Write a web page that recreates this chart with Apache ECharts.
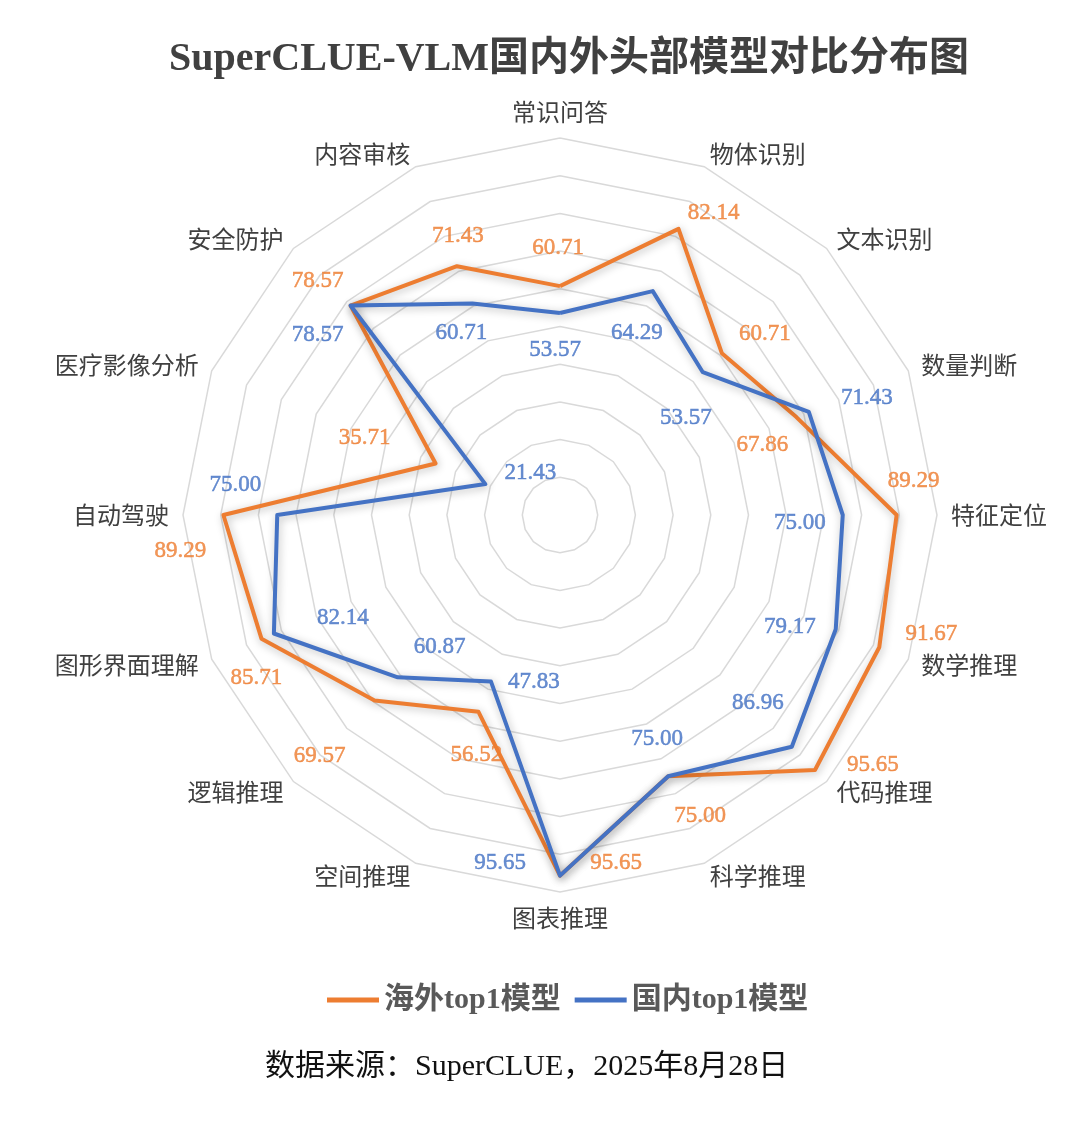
<!DOCTYPE html>
<html lang="zh">
<head>
    <meta charset="UTF-8">
    <title>SuperCLUE-VLM</title>
    <script src="https://cdn.jsdelivr.net/npm/echarts@6/dist/echarts.min.js"></script>
    <style>
        html, body { margin: 0; padding: 0; background: #fff; }
        #chart { width: 1080px; height: 1134px; }
    </style>
</head>
<body>
<div id="chart"></div>
<script type="text/javascript">
    // 维度（顺时针，从正上方开始）
    var indicators = ['常识问答', '物体识别', '文本识别', '数量判断', '特征定位', '数学推理', '代码推理', '科学推理',
        '图表推理', '空间推理', '逻辑推理', '图形界面理解', '自动驾驶', '医疗影像分析', '安全防护', '内容审核']
    var seriesNames = ['海外top1模型', '国内top1模型']
    var overseas = [60.71, 82.14, 60.71, 67.86, 89.29, 91.67, 95.65, 75.00, 95.65, 56.52, 69.57, 85.71, 89.29, 35.71, 78.57, 71.43]
    var domestic = [53.57, 64.29, 53.57, 71.43, 75.00, 79.17, 86.96, 75.00, 95.65, 47.83, 60.87, 82.14, 75.00, 21.43, 78.57, 60.71]

    var colors = ['#ED7D31', '#4472C4']

    // 数值标签相对顶点的偏移
    var offsetOut = [[-2, -38], [35, -16], [43, -19], [-34, 28], [17, -34], [52, -13], [58, -5], [32, 40],
        [56, -13], [-2, 43], [-55, 55], [-5, 39], [-43, 36], [-71, -26], [-33, -25], [1, -30]]
    var offsetIn = [[-5, 37], [-16, 42], [-17, 46], [58, -14], [-43, 8], [-46, -2], [-34, -44], [-11, -37],
        [-60, -13], [43, 0], [42, -30], [69, -16], [-42, -30], [45, -11], [-33, 29], [-11, 29]]

    var n = indicators.length
    var step = 360 / n
    var center = [560, 515]
    var radius = 377

    // radar 默认逆时针排列，这里倒序保证顺时针
    function toRadarOrder(arr) {
        var res = []
        for (var k = 0; k < n; k++) {
            res.push(arr[(n - k) % n])
        }
        return res
    }

    var radarIndicator = toRadarOrder(indicators).map(function (name) {
        return {name: name, min: 0, max: 100}
    })

    function labelData(values, offsets) {
        var res = []
        for (var i = 0; i < n; i++) {
            res.push({
                value: [values[i], i * step],
                label: {offset: offsets[i]}
            })
        }
        return res
    }

    function lineStyle(color) {
        return {
            color: color,
            width: 4,
            shadowColor: 'rgba(0,0,0,0.28)',
            shadowBlur: 9,
            shadowOffsetX: 1,
            shadowOffsetY: 2
        }
    }

    function valueLabel(color) {
        return {
            show: true,
            position: 'inside',
            color: color,
            fontSize: 23,
            fontFamily: '"Liberation Serif"',
            textBorderColor: color,
            textBorderWidth: 0.5,
            textShadowBlur: 0,
            formatter: function (p) { return p.value[0].toFixed(2) }
        }
    }

    var chart = echarts.init(document.getElementById('chart'))

    var option = {
        backgroundColor: '#ffffff',
        animation: false,
        title: [
            {
                text: 'SuperCLUE-VLM国内外头部模型对比分布图',
                left: 164,
                top: 35,
                textStyle: {
                    fontSize: 40,
                    fontWeight: 'bold',
                    color: '#404040',
                    fontFamily: '"Liberation Serif", "Noto Sans CJK SC"'
                }
            },
            {
                text: '数据来源：SuperCLUE，2025年8月28日',
                left: 260,
                top: 1047,
                textStyle: {
                    fontSize: 30,
                    fontWeight: 'normal',
                    color: '#111111',
                    fontFamily: '"Liberation Serif", "Noto Sans CJK SC"'
                }
            }
        ],
        legend: {
            data: seriesNames,
            left: 322,
            top: 980,
            icon: 'rect',
            itemWidth: 52,
            itemHeight: 5,
            itemGap: 14,
            textStyle: {
                fontSize: 30,
                fontWeight: 'bold',
                color: '#595959',
                fontFamily: '"Liberation Serif", "Noto Sans CJK SC"'
            }
        },
        radar: {
            center: center,
            radius: radius,
            startAngle: 90,
            splitNumber: 10,
            shape: 'polygon',
            indicator: radarIndicator,
            axisName: {
                color: '#404040',
                fontSize: 24,
                fontFamily: '"Noto Sans CJK SC"'
            },
            nameGap: 14,
            axisLine: {show: false},
            axisTick: {show: false},
            axisLabel: {show: false},
            splitArea: {show: false},
            splitLine: {lineStyle: {color: '#d9d9d9', width: 1.5}}
        },
        polar: {
            center: center,
            radius: radius
        },
        angleAxis: {
            type: 'value',
            min: 0,
            max: 360,
            startAngle: 90,
            clockwise: true,
            show: false
        },
        radiusAxis: {
            type: 'value',
            min: 0,
            max: 100,
            show: false
        },
        series: [
            {
                type: 'radar',
                symbol: 'none',
                z: 3,
                data: [
                    {
                        name: seriesNames[0],
                        value: toRadarOrder(overseas),
                        itemStyle: {color: colors[0]},
                        lineStyle: lineStyle(colors[0])
                    },
                    {
                        name: seriesNames[1],
                        value: toRadarOrder(domestic),
                        itemStyle: {color: colors[1]},
                        lineStyle: lineStyle(colors[1])
                    }
                ]
            },
            {
                type: 'scatter',
                coordinateSystem: 'polar',
                symbolSize: 0,
                silent: true,
                z: 5,
                label: valueLabel(colors[0]),
                data: labelData(overseas, offsetOut)
            },
            {
                type: 'scatter',
                coordinateSystem: 'polar',
                symbolSize: 0,
                silent: true,
                z: 5,
                label: valueLabel(colors[1]),
                data: labelData(domestic, offsetIn)
            }
        ]
    }

    chart.setOption(option)
</script>
</body>
</html>
